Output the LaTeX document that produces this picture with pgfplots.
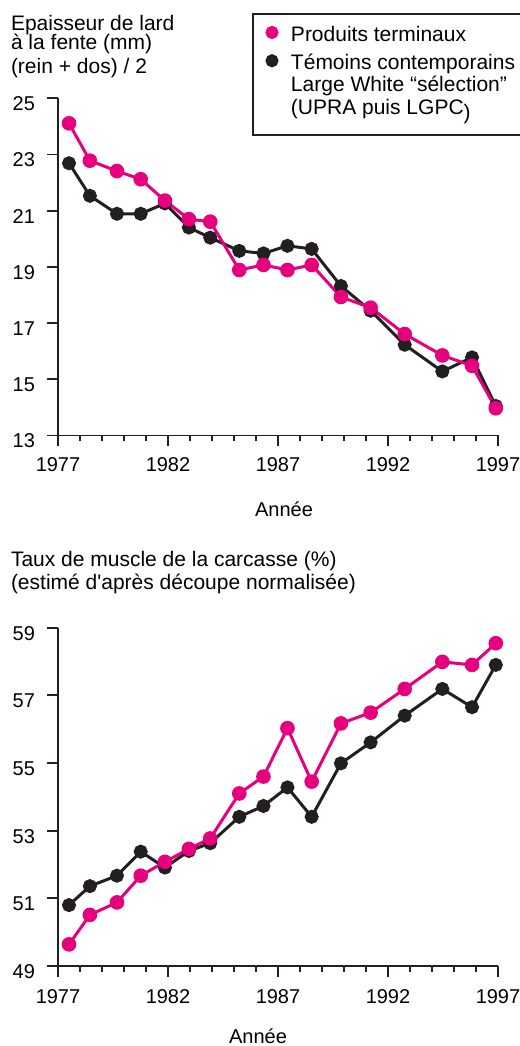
\documentclass[border=0pt]{standalone}
\usepackage{fontspec}
\setmainfont{Liberation Sans}
\usepackage{pgfplots}
\usepackage{pgfplotstable}
\pgfplotsset{compat=1.18}
\definecolor{pinkc}{RGB}{230,0,126}
\definecolor{blackc}{RGB}{35,31,32}
\newcommand\titfont{\fontsize{10.5}{12}\selectfont}
\newcommand\tickfont{\fontsize{10}{12}\selectfont}

\pgfplotstableread{
x p b
1977.50 24.11 22.69
1978.45 22.78 21.53
1979.68 22.41 20.89
1980.76 22.12 20.89
1981.86 21.36 21.26
1982.95 20.70 20.40
1983.92 20.61 20.04
1985.24 18.89 19.57
1986.34 19.07 19.48
1987.43 18.89 19.75
1988.53 19.07 19.64
1989.86 17.93 18.32
1991.21 17.55 17.44
1992.76 16.61 16.23
1994.47 15.85 15.28
1995.82 15.48 15.78
1996.90 13.97 14.05
}\topdata

\pgfplotstableread{
x p b
1977.50 49.64 50.80
1978.45 50.51 51.36
1979.68 50.88 51.67
1980.76 51.67 52.38
1981.86 52.08 51.91
1982.95 52.46 52.40
1983.92 52.77 52.63
1985.24 54.10 53.41
1986.34 54.60 53.73
1987.43 56.03 54.28
1988.53 54.45 53.41
1989.86 56.17 54.99
1991.21 56.49 55.61
1992.76 57.19 56.40
1994.47 57.99 57.19
1995.82 57.90 56.65
1996.90 58.54 57.90
}\botdata

\pgfplotsset{
  myaxis/.style={
    scale only axis, width=220pt,
    xmin=1977, xmax=1997,
    xtick={1977,1982,1987,1992,1997},
    minor x tick num=4,
    axis lines*=left,
    tick align=outside,
    major tick length=5.4pt, minor tick length=3pt,
    every tick/.style={blackc, line width=0.9pt},
    axis line style={blackc, line width=0.9pt},
    tick label style={font=\tickfont, /pgf/number format/assume math mode=true},
    xticklabel style={/pgf/number format/1000 sep={}},
    yticklabel style={xshift=-2.6pt, yshift=-2.8pt},
    clip=false,
  },
  blk/.style={blackc, line width=1.5pt, mark=*, mark size=2.75pt, mark options={solid, fill=blackc, draw=none}},
  pnk/.style={pinkc, line width=1.5pt, mark=*, mark size=2.9pt, mark options={solid, fill=pinkc, draw=none}},
}

\begin{document}
\begin{tikzpicture}
\useasboundingbox (0pt,0pt) rectangle (260pt,523pt);

\begin{axis}[myaxis,
  at={(29pt,305.25pt)}, anchor=south west,
  height=168.6pt,
  ymin=13, ymax=25, ytick={13,15,...,25},
  xticklabel style={yshift=-1.9pt},
  reverse legend,
  legend image code/.code={\draw[#1, mark size=2.5pt] plot coordinates {(0pt,4.3pt)};},
  legend style={at={(0.4409,1.2530)}, anchor=north west, draw=blackc, line width=1pt,
    inner xsep=7pt, inner ysep=5.7pt, font=\fontsize{10.5}{11.2}\selectfont,
    cells={anchor=base west}, nodes={inner sep=0pt, text depth=, text height=}, column sep=7pt, row sep=2.95pt},
]
\addplot[blk] table[x=x, y=b] {\topdata};
\addlegendentry{\begin{tabular}[t]{@{}l@{}}Témoins contemporains\hspace{12pt}\\Large White “sélection”\\(UPRA puis LGPC\raisebox{-2.5pt}{)}\end{tabular}}
\addplot[pnk] table[x=x, y=p] {\topdata};
\addlegendentry{\strut Produits terminaux}
\end{axis}

\begin{axis}[myaxis,
  at={(29pt,40pt)}, anchor=south west,
  height=169.15pt,
  ymin=49, ymax=59, ytick={49,51,...,59},
  xticklabel style={yshift=-2.9pt},
]
\addplot[blk] table[x=x, y=b] {\botdata};
\addplot[pnk] table[x=x, y=p] {\botdata};
\end{axis}

\node[anchor=base west, inner sep=0pt, font=\titfont] at (5.3pt,507.65pt) {Epaisseur de lard};
\node[anchor=base west, inner sep=0pt, font=\titfont] at (5.3pt,498pt) {à la fente (mm)};
\node[anchor=base west, inner sep=0pt, font=\titfont] at (5.3pt,486pt) {(rein + dos) / 2};
\node[anchor=base west, inner sep=0pt, font=\titfont] at (5.3pt,239.65pt) {Taux de muscle de la carcasse (\%)};
\node[anchor=base west, inner sep=0pt, font=\titfont] at (5.3pt,228pt) {(estimé d\textquotesingle après découpe normalisée)};
\node[anchor=base, inner sep=0pt, font=\tickfont] at (142pt,264.65pt) {Année};
\node[anchor=base, inner sep=0pt, font=\tickfont] at (129pt,1.5pt) {Année};
\end{tikzpicture}
\end{document}
